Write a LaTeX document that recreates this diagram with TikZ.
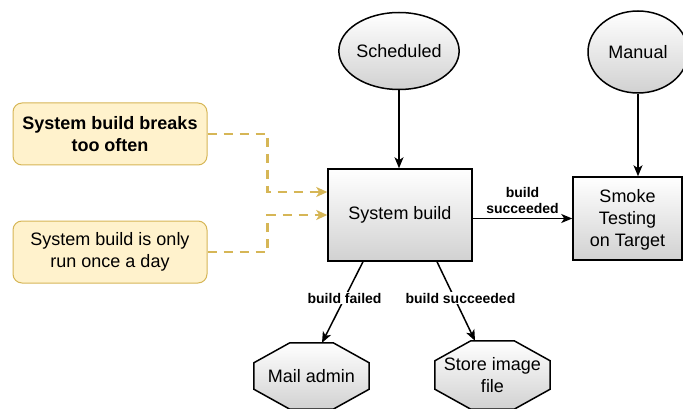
\documentclass[tikz,border=0pt]{standalone}
\usepackage{fontspec}
\setmainfont{Liberation Sans}
\usetikzlibrary{arrows.meta,shapes.geometric,backgrounds,calc}
\definecolor{noteFill}{HTML}{FFF2CC}
\definecolor{noteLine}{HTML}{D6B656}
\begin{document}
\begin{tikzpicture}[x=1pt,y=-1pt,
  base/.style={font=\fontsize{18}{22}\selectfont, align=center, inner sep=0pt},
  grad/.style={top color=white, bottom color=black!18, draw=black, line width=1.5pt},
  box/.style={base, grad, rectangle},
  oval/.style={base, grad, ellipse},
  note/.style={base, rectangle, rounded corners=9pt, fill=noteFill, draw=noteLine,
    line width=1pt, minimum width=194, minimum height=62},
  octtext/.style={base, minimum width=115},
  flow/.style={-{Stealth[length=11pt,width=9pt,inset=3pt]}, line width=1.5pt},
  hint/.style={-{Stealth[length=11pt,width=10pt,inset=3pt]}, line width=2.5pt,
    draw=noteLine, dash pattern=on 9pt off 7pt},
  lbl/.style={font=\fontsize{14}{16.5}\selectfont\bfseries, align=center,
    fill=white, inner sep=1pt}
]
\useasboundingbox (0,0) rectangle (683,409);

% triggers
\node[oval, minimum width=108, minimum height=77] (sched) at (399,51) {Scheduled};
\node[oval, minimum width=100, minimum height=82] (manual) at (638,52) {Manual};

% main steps
\node[box, minimum width=144, minimum height=92] (sys) at (400,215) {System build};
\node[box, minimum width=109, minimum height=83] (smoke) at (627.5,218.5) {};
\node[base, yshift=-1.5pt] (smoketext) at (smoke) {Smoke\\Testing\\on Target};

% problem notes
\node[note, font=\fontsize{18}{21.6}\selectfont\bfseries] (b1) at (110,134)
  {System build breaks\\too often};
\node[note] (b2) at (110,252) {System build is only\\run once a day};

% outcomes (octagons)
\node[octtext, minimum height=66] (mail) at (311.5,376) {Mail admin};
\node[octtext, minimum height=68] (store) at (492.5,375) {Store image\\file};
\begin{scope}[on background layer]
\foreach \n in {mail,store}{
  \path[grad] ([xshift=36]\n.north west) -- ([xshift=-36]\n.north east)
    -- ([yshift=-20]\n.north east) -- ([yshift=20]\n.south east)
    -- ([xshift=-36]\n.south east) -- ([xshift=36]\n.south west)
    -- ([yshift=20]\n.south west) -- ([yshift=-20]\n.north west) -- cycle;
}
\end{scope}

% connectors
\draw[flow] (sched.south) -- (sched.south |- sys.north);
\draw[flow] (manual.south) -- (manual.south |- smoke.north);
\draw[flow] (sys.east |- smoke.west) --
  node[lbl, fill=none, above=3pt] {build\\succeeded} (smoke.west);
\draw[flow] ([xshift=-37]sys.south) --
  node[lbl, pos=0.45] {build failed} ([xshift=10.5]mail.north);
\draw[flow] ([xshift=37]sys.south) --
  node[lbl, pos=0.46, xshift=6] {build succeeded} ([xshift=-17.5]store.north);

\draw[hint] (b1.east) -- ++(60,0) |- ($(sys.west)+(0,-23)$);
\draw[hint] (b2.east) -- ++(60,0) |- (sys.west);
\end{tikzpicture}
\end{document}
